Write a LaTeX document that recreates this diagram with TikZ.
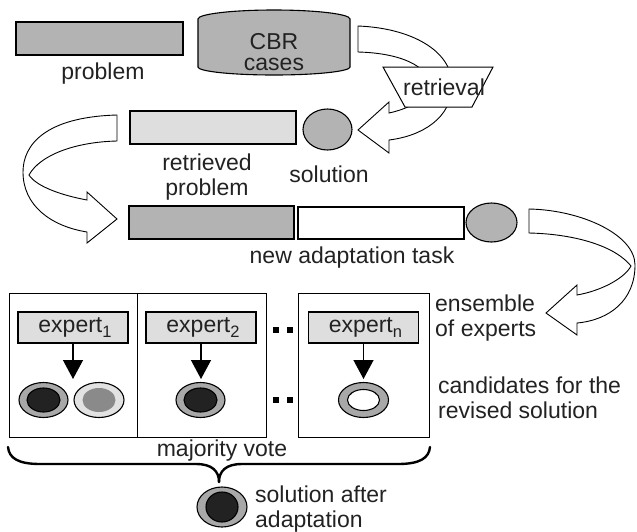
\documentclass[tikz,border=0pt]{standalone}
\usepackage{fontspec}
\setmainfont{Liberation Sans}
\usetikzlibrary{shapes.geometric,arrows.meta}
\definecolor{midgray}{HTML}{B3B3B3}
\definecolor{paleGray}{HTML}{DEDEDE}
\definecolor{ringGray}{HTML}{A8A8A8}
\definecolor{ringPale}{HTML}{E2E2E2}
\definecolor{darkFill}{HTML}{222222}
\definecolor{innerGray}{HTML}{8A8A8A}
\definecolor{txt}{HTML}{222222}
\newcommand{\subidx}[1]{\raisebox{-5pt}{\fontsize{16.5}{16.5}\selectfont #1}}
\begin{document}
\begin{tikzpicture}[x=1pt,y=-1pt,
  font=\fontsize{23}{25}\selectfont, text=txt,
  box/.style={draw=black, line width=1.2pt, inner sep=0pt},
  lbl/.style={inner sep=0pt, align=center},
  lbll/.style={inner sep=0pt, align=left, anchor=west},
  blockarrow/.style={draw=black, fill=white, line width=0.9pt, line join=miter},
  oval/.style={ellipse, draw=black, line width=1.1pt, inner sep=0pt},
  exbox/.style={box, fill=paleGray, minimum width=110pt, minimum height=31pt},
  panel/.style={draw=black, line width=1pt, inner sep=0pt, minimum height=144pt},
  exarrow/.style={line width=1.3pt, -{Triangle[width=20pt,length=19pt]}}
]
\useasboundingbox (0,0) rectangle (637,531);

% --- top row ---
\node[box, fill=midgray, minimum width=167pt, minimum height=33pt] (prob) at (99.5,38.5) {};
\node[lbl] (problbl) at (103,74) {problem};

\draw[fill=midgray, line width=1.1pt] (198,67) -- (198,19) arc[start angle=180, end angle=360, x radius=76, y radius=9] -- (350,67) arc[start angle=0, end angle=180, x radius=76, y radius=8] -- cycle;
\node[lbl, font=\fontsize{23}{21}\selectfont] (cbr) at (274,52) {CBR\\cases};

% retrieval arrow (cylinder -> solution)
\draw[blockarrow] (358,26) .. controls (410,28) and (452,50) .. (452,85)
  .. controls (452,118) and (422,136) .. (389,140) -- (389,153) -- (358,130) -- (389,102) -- (389,113)
  .. controls (412,108) and (429,97) .. (429,85) .. controls (429,66) and (400,53) .. (358,52) -- cycle;
\draw[fill=white, line width=1pt] (383,67) -- (493,67) -- (472,107) -- (405,107) -- cycle;
\node[lbl] (retr) at (444,87) {retrieval};

% --- second row ---
\node[box, fill=paleGray, minimum width=166pt, minimum height=33pt] (rprob) at (213,127.5) {};
\node[oval, fill=midgray, minimum width=49pt, minimum height=41pt] (rsol) at (327.5,129.5) {};
\node[lbl] (rproblbl) at (207,177) {retrieved\\problem};
\node[lbl] (rsollbl) at (329,174) {solution};

% left arrow (retrieved case -> new task)
\draw[blockarrow] (117,115) .. controls (45,117) and (23,145) .. (23,172)
  .. controls (23,205) and (50,226) .. (87,232) -- (87,243) -- (117,219) -- (87,192) -- (87,200)
  .. controls (60,195) and (36,186) .. (29,175) .. controls (40,155) and (75,142) .. (117,141) -- cycle;

% --- new adaptation task ---
\node[box, fill=midgray, minimum width=165pt, minimum height=33pt] (tprob) at (211.5,222.5) {};
\node[box, fill=white, minimum width=166pt, minimum height=32pt] (tsol) at (381,223) {};
\node[oval, fill=midgray, minimum width=51pt, minimum height=39pt] (tcirc) at (491.5,222.5) {};
\node[lbl] (tasklbl) at (352,258) {new adaptation task};

% right arrow (task -> experts)
\draw[blockarrow] (529,209) .. controls (582,210) and (635,235) .. (635,265)
  .. controls (635,300) and (610,320) .. (577,323) -- (577,335) -- (546,313) -- (577,285) -- (577,295)
  .. controls (600,291) and (624,279) .. (631,266) .. controls (615,246) and (575,234) .. (529,233) -- cycle;

% --- experts ---
\node[panel, minimum width=128pt] (p1) at (73,365) {};
\node[panel, minimum width=129pt] (p2) at (201.5,365) {};
\node[panel, minimum width=131pt] (pn) at (363.5,365) {};

\node[exbox] (e1) at (73,327.5) {\hspace*{4pt}expert\subidx{1}};
\node[exbox] (e2) at (201,327.5) {\hspace*{4pt}expert\subidx{2}};
\node[exbox] (en) at (363.5,327.5) {\hspace*{4pt}expert\subidx{n}};

\coordinate (a1) at (73,379);
\coordinate (a2) at (201,379);
\coordinate (an) at (363.5,379);
\draw[exarrow] (e1.south) -- (a1);
\draw[exarrow] (e2.south) -- (a2);
\draw[exarrow] (en.south) -- (an);

\node[oval, fill=ringGray, minimum width=49pt, minimum height=35pt] (c1) at (43.5,400) {};
\node[oval, fill=darkFill, minimum width=33pt, minimum height=24pt] (c1i) at (43.5,400) {};
\node[oval, fill=ringPale, minimum width=50pt, minimum height=35pt] (c2) at (99,400) {};
\node[oval, fill=innerGray, draw=none, minimum width=33pt, minimum height=24pt] (c2i) at (99,400) {};
\node[oval, fill=ringGray, minimum width=49pt, minimum height=35pt] (c3) at (200.5,400) {};
\node[oval, fill=darkFill, minimum width=33pt, minimum height=24pt] (c3i) at (200.5,400) {};
\node[oval, fill=ringGray, minimum width=50pt, minimum height=35pt] (cn) at (363.5,400) {};
\node[oval, fill=white, minimum width=32pt, minimum height=21pt] (cni) at (363.5,400) {};

% dots
\fill[black] (273,327) rectangle (279,333);
\fill[black] (287,327) rectangle (293,333);
\fill[black] (273,397) rectangle (279,403);
\fill[black] (287,397) rectangle (293,403);

\node[lbll] (enslbl) at (435,318) {ensemble\\of experts};
\node[lbll] (candlbl) at (438,398) {candidates for the\\revised solution};

% majority vote brace
\node[lbl] (mv) at (222,451) {majority vote};
\coordinate (bL) at (8,447);
\coordinate (bR) at (430,447);
\coordinate (bT) at (219,482);
\draw[line width=2.4pt, line cap=round] (bL) .. controls (9,458) and (18,464) .. (40,464) -- (196,464)
  .. controls (212,464) and (219,471) .. (bT);
\draw[line width=2.4pt, line cap=round] (bR) .. controls (429,458) and (420,464) .. (398,464) -- (242,464)
  .. controls (226,464) and (219,471) .. (bT);

\node[oval, fill=ringGray, minimum width=50pt, minimum height=40pt] (fin) at (222,507) {};
\node[oval, fill=darkFill, minimum width=32pt, minimum height=30pt] (fini) at (222,507) {};
\node[lbll] (finlbl) at (255,509) {solution after\\adaptation};
\end{tikzpicture}
\end{document}
